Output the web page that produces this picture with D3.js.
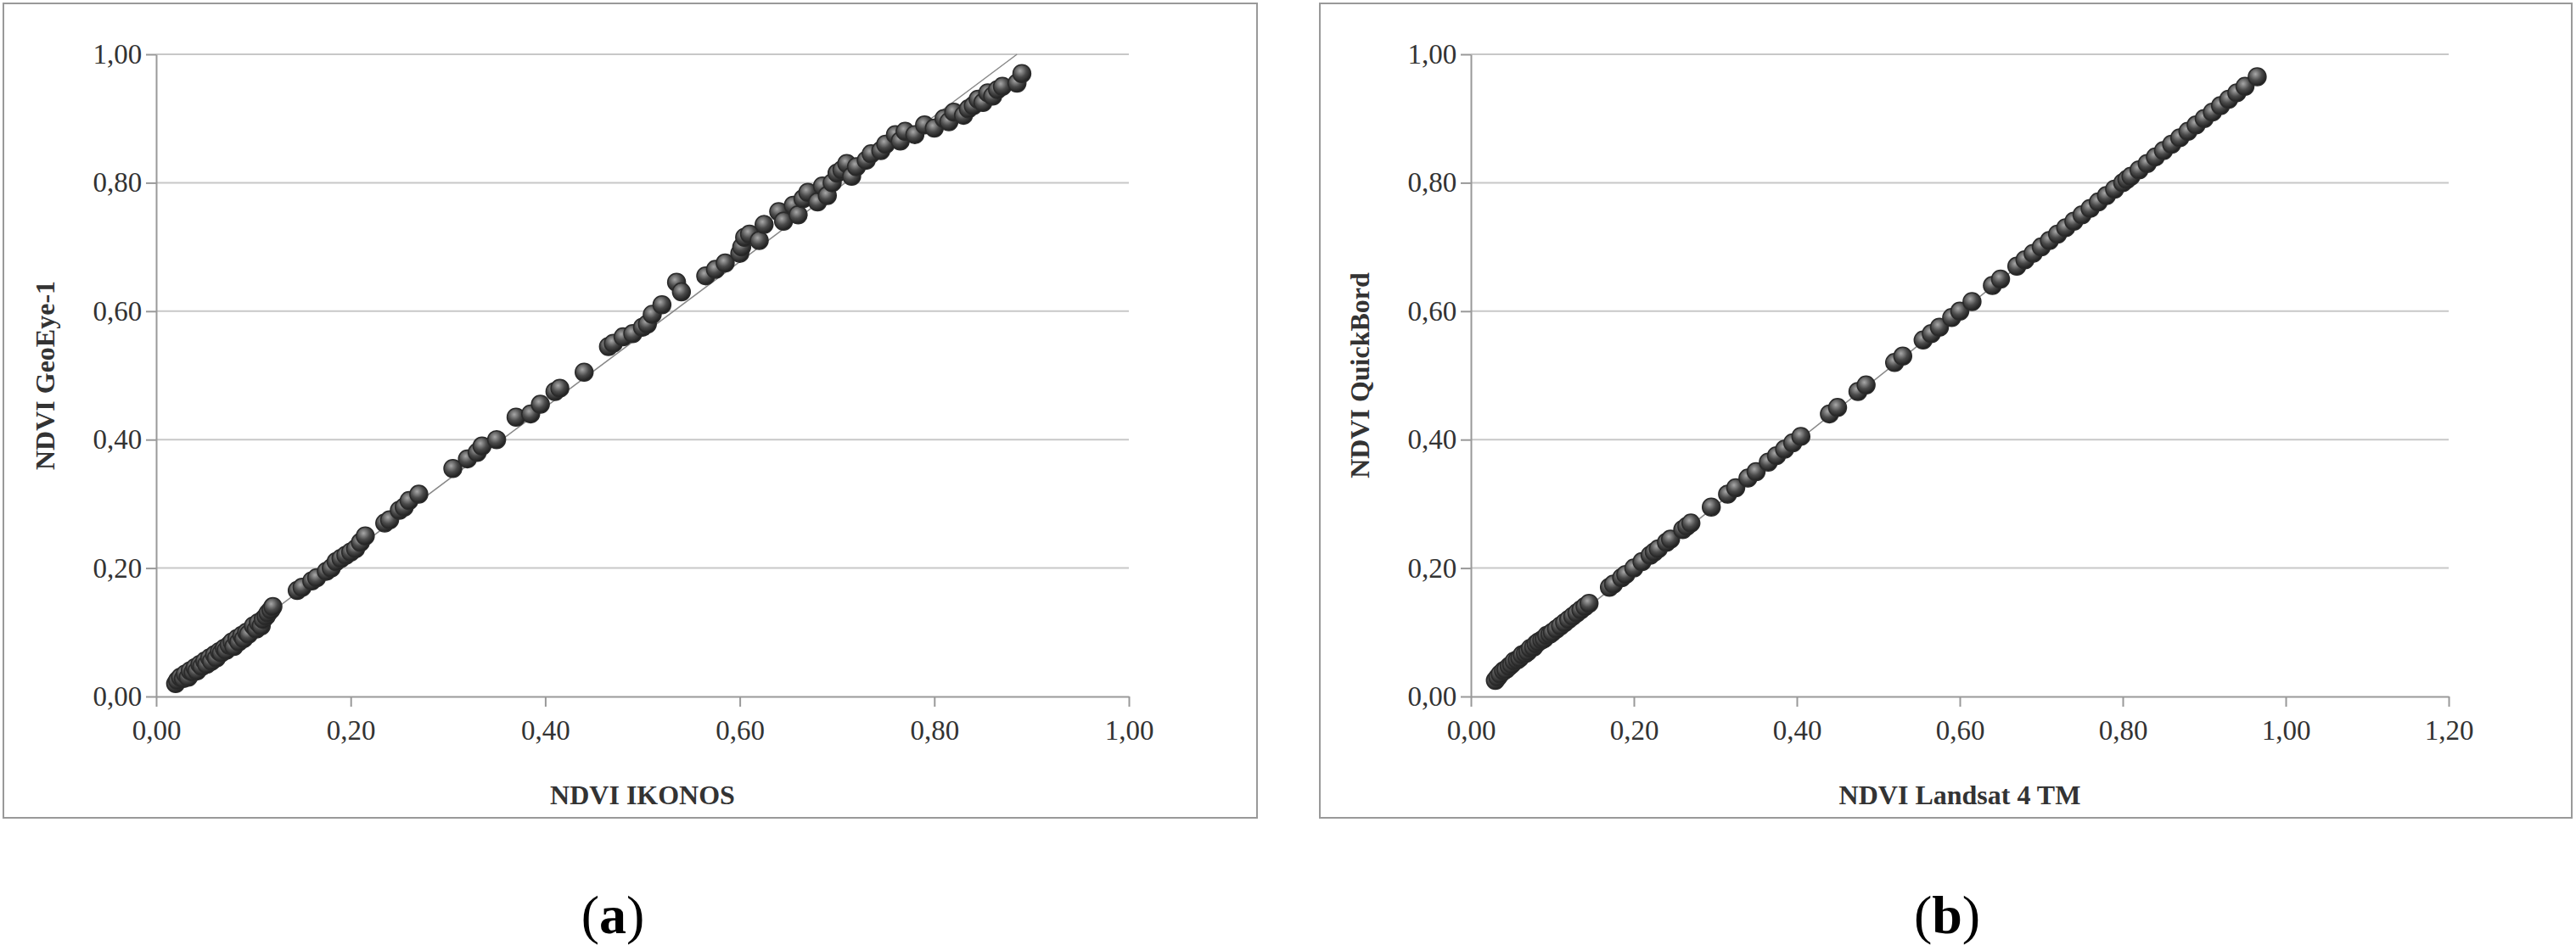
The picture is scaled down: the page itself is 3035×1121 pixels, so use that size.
<!DOCTYPE html>
<html><head><meta charset="utf-8">
<script src="https://cdn.jsdelivr.net/npm/d3@7"></script>
<style>body{margin:0;background:#fff}text{font-family:"Liberation Serif","DejaVu Serif",serif}</style>
</head><body><svg id="c" width="3035" height="1121"></svg>
<script>
"use strict";
// panel (a) NDVI IKONOS vs GeoEye-1
const ikonosX = [0.02,0.022,0.025,0.028,0.03,0.033,0.035,0.038,0.04,0.042,0.045,0.047,0.05,0.052,0.055,0.057,0.06,0.062,0.065,0.067,0.07,0.072,0.075,0.078,0.08,0.083,0.085,0.088,0.09,0.093,0.095,0.1,0.103,0.105,0.108,0.11,0.113,0.115,0.118,0.12,0.145,0.15,0.16,0.165,0.175,0.18,0.185,0.19,0.195,0.2,0.205,0.21,0.215,0.235,0.24,0.25,0.255,0.26,0.27,0.305,0.32,0.33,0.335,0.35,0.37,0.385,0.395,0.41,0.415,0.44,0.465,0.47,0.48,0.49,0.5,0.505,0.51,0.52,0.535,0.54,0.565,0.575,0.585,0.6,0.602,0.605,0.61,0.62,0.625,0.64,0.645,0.655,0.66,0.665,0.67,0.68,0.685,0.69,0.695,0.7,0.705,0.71,0.715,0.72,0.73,0.735,0.745,0.75,0.76,0.765,0.77,0.78,0.79,0.8,0.81,0.815,0.82,0.83,0.835,0.84,0.845,0.85,0.855,0.86,0.865,0.87,0.885,0.89];
const geoeyeY = [0.02,0.025,0.03,0.028,0.035,0.03,0.04,0.038,0.045,0.04,0.05,0.047,0.055,0.05,0.06,0.055,0.065,0.06,0.07,0.068,0.075,0.072,0.08,0.085,0.078,0.09,0.085,0.095,0.09,0.1,0.097,0.11,0.105,0.115,0.11,0.12,0.125,0.13,0.135,0.14,0.165,0.17,0.18,0.185,0.195,0.2,0.21,0.215,0.22,0.225,0.23,0.24,0.25,0.27,0.275,0.29,0.295,0.305,0.315,0.355,0.37,0.38,0.39,0.4,0.435,0.44,0.455,0.475,0.48,0.505,0.545,0.55,0.56,0.565,0.575,0.58,0.595,0.61,0.645,0.63,0.655,0.665,0.675,0.69,0.7,0.715,0.72,0.71,0.735,0.755,0.74,0.765,0.75,0.775,0.785,0.77,0.795,0.78,0.8,0.815,0.82,0.83,0.81,0.825,0.835,0.845,0.85,0.86,0.875,0.865,0.88,0.875,0.89,0.885,0.9,0.895,0.91,0.905,0.915,0.92,0.93,0.925,0.94,0.935,0.945,0.95,0.955,0.97];
// panel (b) NDVI Landsat 4 TM vs QuickBird
const landsatX = [0.03,0.033,0.036,0.04,0.043,0.047,0.05,0.053,0.057,0.06,0.063,0.067,0.07,0.073,0.077,0.08,0.083,0.087,0.09,0.093,0.097,0.1,0.105,0.11,0.115,0.12,0.125,0.13,0.135,0.14,0.145,0.17,0.175,0.185,0.19,0.2,0.21,0.22,0.225,0.23,0.24,0.245,0.26,0.265,0.27,0.295,0.315,0.325,0.34,0.35,0.365,0.375,0.385,0.395,0.405,0.44,0.45,0.475,0.485,0.52,0.53,0.555,0.565,0.575,0.59,0.6,0.615,0.64,0.65,0.67,0.68,0.69,0.7,0.71,0.72,0.73,0.74,0.75,0.76,0.77,0.78,0.79,0.8,0.805,0.81,0.82,0.83,0.84,0.85,0.86,0.87,0.88,0.89,0.9,0.91,0.92,0.93,0.94,0.95,0.965];
const quickbirdY = [0.025,0.03,0.035,0.04,0.042,0.047,0.05,0.055,0.057,0.06,0.065,0.067,0.07,0.075,0.077,0.082,0.085,0.088,0.09,0.095,0.097,0.1,0.105,0.11,0.115,0.12,0.125,0.13,0.135,0.14,0.145,0.17,0.175,0.185,0.19,0.2,0.21,0.22,0.225,0.23,0.24,0.245,0.26,0.265,0.27,0.295,0.315,0.325,0.34,0.35,0.365,0.375,0.385,0.395,0.405,0.44,0.45,0.475,0.485,0.52,0.53,0.555,0.565,0.575,0.59,0.6,0.615,0.64,0.65,0.67,0.68,0.69,0.7,0.71,0.72,0.73,0.74,0.75,0.76,0.77,0.78,0.79,0.8,0.805,0.81,0.82,0.83,0.84,0.85,0.86,0.87,0.88,0.89,0.9,0.91,0.92,0.93,0.94,0.95,0.965];
const yTicks = [0, 0.2, 0.4, 0.6, 0.8, 1.0];
const xTicksA = [0, 0.2, 0.4, 0.6, 0.8, 1.0];
const xTicksB = [0, 0.2, 0.4, 0.6, 0.8, 1.0, 1.2];
const trendA = [[0.02, 0.02], [0.885, 1.0]];
const trendB = [[0.03, 0.025], [0.965, 0.965]];

const svg = d3.select("#c");
const defs = svg.append("defs");
const grad = defs.append("radialGradient").attr("id", "dot").attr("cx", "40%").attr("cy", "35%").attr("r", "65%");
grad.append("stop").attr("offset", "0%").attr("stop-color", "#a8a8a8");
grad.append("stop").attr("offset", "55%").attr("stop-color", "#4a4a4a");
grad.append("stop").attr("offset", "100%").attr("stop-color", "#1e1e1e");
const fmt = (d) => d3.format(".2f")(d).replace(".", ",");

function panel(p) {
  svg.append("rect").attr("x", p.bx).attr("y", 4).attr("width", p.bw).attr("height", 960)
    .attr("fill", "none").attr("stroke", "#999").attr("stroke-width", 2);
  const x = d3.scaleLinear().domain([0, p.xMax]).range([p.left, p.right]);
  const y = d3.scaleLinear().domain([0, 1]).range([821, 64]);
  const g = svg.append("g");
  // gridlines
  g.selectAll(".grid").data(yTicks.slice(1)).enter().append("line")
    .attr("x1", p.left).attr("x2", p.right).attr("y1", y).attr("y2", y)
    .attr("stroke", "#c8c8c8").attr("stroke-width", 2);
  const xa = g.append("g").attr("transform", `translate(0,821)`)
    .call(d3.axisBottom(x).tickValues(p.xTicks).tickFormat(fmt).tickSize(12).tickSizeOuter(0));
  const ya = g.append("g").attr("transform", `translate(${p.left},0)`)
    .call(d3.axisLeft(y).tickValues(yTicks).tickFormat(fmt).tickSize(12).tickSizeOuter(0));
  [xa, ya].forEach((a) => {
    a.selectAll("path,line").attr("stroke", "#999").attr("stroke-width", 2);
    a.selectAll("text").attr("font-size", 33).attr("fill", "#333");
  });
  xa.selectAll("text").attr("dy", "1.1em");
  ya.selectAll("text").attr("dx", "-0.05em");
  // trend line
  g.append("path").attr("d", d3.line().x((d) => x(d[0])).y((d) => y(d[1]))(p.trend))
    .attr("stroke", "#888").attr("stroke-width", 1.5).attr("fill", "none");
  g.selectAll(".pt").data(p.xs.map((v, i) => [v, p.ys[i]])).enter().append("circle")
    .attr("cx", (d) => x(d[0])).attr("cy", (d) => y(d[1])).attr("r", 10.5)
    .attr("fill", "url(#dot)").attr("stroke", "#2a2a2a").attr("stroke-width", 1.5);
  g.append("text").attr("x", (p.left + p.right) / 2).attr("y", 948).attr("text-anchor", "middle")
    .attr("font-size", 32).attr("font-weight", "bold").attr("fill", "#333").text(p.xTitle);
  g.append("text").attr("transform", `translate(${p.left - 120},${(64 + 821) / 2}) rotate(-90)`)
    .attr("text-anchor", "middle").attr("font-size", 32).attr("font-weight", "bold").attr("fill", "#333").text(p.yTitle);
  const lab = svg.append("text").attr("x", p.labX).attr("y", 1100).attr("text-anchor", "middle")
    .attr("font-size", 64).attr("fill", "#000");
  lab.append("tspan").text("(");
  lab.append("tspan").attr("font-weight", "bold").text(p.lab);
  lab.append("tspan").text(")");
}

panel({bx: 4, bw: 1477, left: 184, right: 1330, xMax: 1.0, xTicks: xTicksA, xs: ikonosX, ys: geoeyeY,
  trend: trendA, xTitle: "NDVI IKONOS", yTitle: "NDVI GeoEye-1", lab: "a", labX: 722});
panel({bx: 1555, bw: 1475, left: 1733, right: 2885, xMax: 1.2, xTicks: xTicksB, xs: landsatX, ys: quickbirdY,
  trend: trendB, xTitle: "NDVI Landsat 4 TM", yTitle: "NDVI QuickBord", lab: "b", labX: 2294});
</script></body></html>
